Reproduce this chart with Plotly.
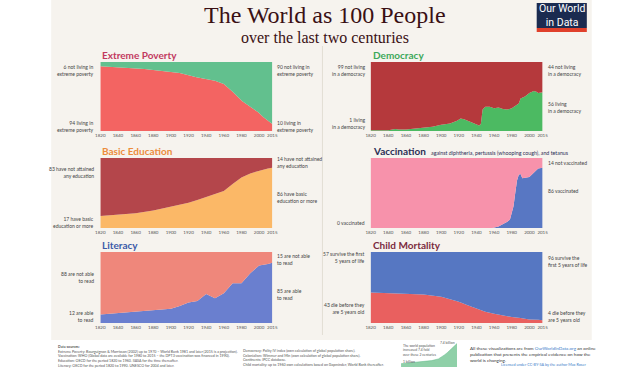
import plotly.graph_objects as go

# ---------------- data ----------------
ticks = [1820, 1840, 1860, 1880, 1900, 1920, 1940, 1960, 1980, 2000, 2015]

pov_years = [1820, 1850, 1870, 1890, 1910, 1929, 1950, 1960, 1970, 1981, 1990, 1999, 2005, 2010, 2015]
pov_living = [94, 92, 90, 87, 84, 78, 73, 68, 57, 43, 35, 27, 20, 15, 10]

dem_years = [1820, 1830, 1840, 1848, 1852, 1860, 1870, 1880, 1890, 1900, 1910, 1918, 1922, 1926, 1930,
             1935, 1940, 1943, 1945, 1947, 1950, 1955, 1960, 1965, 1970, 1975, 1980, 1985, 1988,
             1990, 1995, 2000, 2005, 2008, 2010, 2015]
dem_living = [1, 1, 1, 3, 2, 2, 3, 4, 6, 9, 11, 15, 18, 17, 15,
              13, 10, 8, 10, 31, 35, 35, 33, 34, 32, 31, 33, 38, 40,
              47, 50, 55, 58, 57, 55, 56]

edu_years = [1820, 1840, 1860, 1880, 1900, 1920, 1930, 1940, 1950, 1960, 1970, 1980, 1990, 2000, 2010, 2015]
edu_basic = [17, 19, 21, 25, 30, 36, 40, 44, 48, 53, 63, 72, 78, 82, 85, 86]

vac_years = [1820, 1958, 1965, 1970, 1975, 1978, 1980, 1982, 1984, 1986, 1988, 1990, 1992, 1995, 2000, 2005, 2010, 2015]
vac_done = [0, 0, 2, 5, 9, 12, 20, 31, 50, 68, 76, 77, 71, 72, 73, 79, 85, 86]

lit_years = [1820, 1870, 1900, 1910, 1920, 1930, 1940, 1950, 1960, 1970, 1980, 1990, 2000, 2010, 2015]
lit_able = [12, 17, 20, 24, 29, 31, 41, 35, 42, 56, 56, 70, 81, 83, 85]

cm_years = [1820, 1840, 1860, 1880, 1900, 1910, 1920, 1930, 1940, 1950, 1960, 1970, 1980, 1990, 2000, 2010, 2015]
cm_die = [43, 42, 42, 40, 37, 34, 30, 25, 20, 16, 13, 10.5, 8.5, 7, 5, 4.5, 4]

pop_years = [1820, 1850, 1900, 1927, 1950, 1960, 1970, 1980, 1990, 2000, 2010, 2015]
pop_billion = [1.04, 1.26, 1.65, 2.0, 2.53, 3.0, 3.7, 4.4, 5.3, 6.1, 6.9, 7.35]

# ---------------- layout helpers ----------------
W, H = 640, 368
def px(x): return x / W
def py(y): return 1 - y / H

fig = go.Figure()

panels = [
    dict(years=pov_years, vals=pov_living, bot="#f36462", top="#62c08e", title="Extreme Poverty",
         tcol="#c2395f", xr=(97, 272), yr=(62, 131)),
    dict(years=dem_years, vals=dem_living, bot="#4cba62", top="#b5393c", title="Democracy",
         tcol="#3da85a", xr=(372, 547), yr=(62, 131)),
    dict(years=edu_years, vals=edu_basic, bot="#fbb867", top="#b4464b", title="Basic Education",
         tcol="#ec8c3c", xr=(97, 272), yr=(158, 228)),
    dict(years=vac_years, vals=vac_done, bot="#5877c3", top="#f792ab", title="Vaccination",
         tcol="#2c2f55", xr=(372, 547), yr=(158, 228)),
    dict(years=lit_years, vals=lit_able, bot="#6a7fcf", top="#ef877b", title="Literacy",
         tcol="#3c5aa8", xr=(97, 272), yr=(252, 323)),
    dict(years=cm_years, vals=cm_die, bot="#e9605f", top="#5677c2", title="Child Mortality",
         tcol="#7b2b40", xr=(372, 547), yr=(252, 323)),
]

layout_axes = {}
annotations = []
for i, p in enumerate(panels, start=1):
    xa = "x" if i == 1 else f"x{i}"
    ya = "y" if i == 1 else f"y{i}"
    comp = [100 - v for v in p["vals"]]
    fig.add_trace(go.Scatter(x=p["years"], y=p["vals"], stackgroup=f"s{i}", mode="lines",
                             line=dict(width=0, color=p["bot"]), fillcolor=p["bot"],
                             xaxis=xa, yaxis=ya, hoverinfo="skip", showlegend=False))
    fig.add_trace(go.Scatter(x=p["years"], y=comp, stackgroup=f"s{i}", mode="lines",
                             line=dict(width=0, color=p["top"]), fillcolor=p["top"],
                             xaxis=xa, yaxis=ya, hoverinfo="skip", showlegend=False))
    kx = "xaxis" if i == 1 else f"xaxis{i}"
    ky = "yaxis" if i == 1 else f"yaxis{i}"
    layout_axes[kx] = dict(domain=[px(p["xr"][0]), px(p["xr"][1])], range=[1820, 2015],
                           anchor=ya, tickvals=ticks, ticktext=[str(t) for t in ticks],
                           tickfont=dict(size=4.5, color="#555", family="Lato"),
                           showgrid=False, zeroline=False, ticks="", showline=False, fixedrange=True)
    layout_axes[ky] = dict(domain=[py(p["yr"][1]), py(p["yr"][0])], range=[0, 100],
                           anchor=xa, showticklabels=False, showgrid=False, zeroline=False,
                           ticks="", fixedrange=True)
    annotations.append(dict(text=p["title"], x=px(p["xr"][0]), y=py(p["yr"][0] - 7),
                            xref="paper", yref="paper", xanchor="left", yanchor="middle",
                            showarrow=False, font=dict(family="Lato", size=10, color=p["tcol"],
                                                       weight="bold")))

annotations.append(dict(text="against diphtheria, pertussis (whooping cough), and tetanus",
                        x=px(431), y=py(153), xref="paper", yref="paper", xanchor="left",
                        yanchor="middle", showarrow=False,
                        font=dict(family="Lato", size=5.3, color="#2c2f55")))

side = [
    ("6 not living in<br>extreme poverty", 93, 70, "L"),
    ("94 living in<br>extreme poverty", 93, 126, "L"),
    ("90 not living in<br>extreme poverty", 275, 70, "R"),
    ("10 living in<br>extreme poverty", 275, 126, "R"),
    ("99 not living<br>in a democracy", 368, 70, "L"),
    ("1 living<br>in a democracy", 368, 124, "L"),
    ("44 not living<br>in a democracy", 550, 70, "R"),
    ("56 living<br>in a democracy", 550, 108, "R"),
    ("83 have not attained<br>any education", 93, 172, "L"),
    ("17 have basic<br>education or more", 93, 222, "L"),
    ("14 have not attained<br>any education", 275, 162, "R"),
    ("86 have basic<br>education or more", 275, 198, "R"),
    ("0 vaccinated", 368, 223, "L"),
    ("14 not vaccinated", 550, 163, "R"),
    ("86 vaccinated", 550, 191, "R"),
    ("88 are not able<br>to read", 93, 277, "L"),
    ("12 are able<br>to read", 93, 316, "L"),
    ("15 are not able<br>to read", 275, 259, "R"),
    ("85 are able<br>to read", 275, 294, "R"),
    ("57 survive the first<br>5 years of life", 368, 257, "L"),
    ("43 die before they<br>are 5 years old", 368, 308, "L"),
    ("96 survive the<br>first 5 years of life", 550, 261, "R"),
    ("4 die before they<br>are 5 years old", 550, 316, "R"),
]
for t, x, y, s in side:
    annotations.append(dict(text=t, x=px(x), y=py(y), xref="paper", yref="paper",
                            xanchor="right" if s == "L" else "left", yanchor="middle",
                            align="right" if s == "L" else "left", showarrow=False,
                            font=dict(family="Lato", size=5, color="#444")))

# main titles
annotations.append(dict(text="The World as 100 People", x=px(326), y=py(15), xref="paper", yref="paper",
                        xanchor="center", yanchor="middle", showarrow=False,
                        font=dict(family="Liberation Serif", size=24, color="#3a1014")))
annotations.append(dict(text="over the last two centuries", x=px(326), y=py(37), xref="paper", yref="paper",
                        xanchor="center", yanchor="middle", showarrow=False,
                        font=dict(family="Liberation Serif", size=16, color="#3a1014")))
# logo text
annotations.append(dict(text="Our World<br>in Data", x=px(566.5), y=py(15.5), xref="paper", yref="paper",
                        xanchor="center", yanchor="middle", showarrow=False,
                        font=dict(family="Liberation Sans Narrow, Roboto", size=10.5, color="white")))

# footer
src_left = ("<b>Data sources:</b><br>"
            "Extreme Poverty: Bourguignon & Morrisson (2002) up to 1970 – World Bank 1981 and later (2015 is a projection).<br>"
            "Vaccination: WHO (Global data are available for 1980 to 2015 – the DPT3 vaccination was financed in 1990).<br>"
            "Education: OECD for the period 1820 to 1960. IIASA for the time thereafter.<br>"
            "Literacy: OECD for the period 1820 to 1990. UNESCO for 2004 and later.")
src_right = ("Democracy: Polity IV index (own calculation of global population share).<br>"
             "Colonialism: Wimmer and Min (own calculation of global population share).<br>"
             "Continents: IPCC database.<br>"
             "Child mortality: up to 1960 own calculations based on Gapminder, World Bank thereafter.")
annotations.append(dict(text=src_left, x=px(52), y=py(342), xref="paper", yref="paper",
                        xanchor="left", yanchor="top", align="left", showarrow=False,
                        font=dict(family="Lato", size=3.6, color="#555")))
annotations.append(dict(text=src_right, x=px(240), y=py(346), xref="paper", yref="paper",
                        xanchor="left", yanchor="top", align="left", showarrow=False,
                        font=dict(family="Lato", size=3.6, color="#555")))
annotations.append(dict(text="All these visualizations are from <span style='color:#3d7ec9'>OurWorldInData.org</span> an online<br>"
                             "publication that presents the empirical evidence on how the<br>world is changing.",
                        x=px(471), y=py(342.5), xref="paper", yref="paper", xanchor="left", yanchor="top",
                        align="left", showarrow=False, font=dict(family="Lato", size=4.6, color="#333")))
annotations.append(dict(text="Licensed under CC-BY-SA by the author Max Roser",
                        x=px(593), y=py(364.5), xref="paper", yref="paper", xanchor="right", yanchor="middle",
                        showarrow=False, font=dict(family="Lato", size=3.8, color="#3d7ec9")))
annotations.append(dict(text="The world population<br>increased 7.4 fold<br>over these 2 centuries",
                        x=px(403), y=py(342), xref="paper", yref="paper", xanchor="left", yanchor="top",
                        align="left", showarrow=False, font=dict(family="Lato", size=3.4, color="#555")))
annotations.append(dict(text="7.4 billion", x=px(460), y=py(343), xref="paper", yref="paper",
                        xanchor="right", yanchor="middle", showarrow=False,
                        font=dict(family="Lato", size=3.4, color="#555")))
annotations.append(dict(text="1 billion", x=px(403), y=py(362), xref="paper", yref="paper",
                        xanchor="left", yanchor="middle", showarrow=False,
                        font=dict(family="Lato", size=3.4, color="#555")))

# mini population chart
fig.add_trace(go.Scatter(x=pop_years, y=pop_billion, fill="tozeroy", mode="lines",
                         line=dict(width=0.5, color="#5fb886"), fillcolor="#8fd0a8",
                         xaxis="x7", yaxis="y7", hoverinfo="skip", showlegend=False))
layout_axes["xaxis7"] = dict(domain=[px(403), px(460)], range=[1820, 2015], anchor="y7",
                             visible=False, fixedrange=True)
layout_axes["yaxis7"] = dict(domain=[py(367), py(343)], range=[0, 7.5], anchor="x7",
                             visible=False, fixedrange=True)

shapes = [
    dict(type="rect", xref="paper", yref="paper", x0=px(47), x1=px(597), y0=py(340), y1=py(0),
         fillcolor="#f6f3ee", line=dict(width=0), layer="below"),
    dict(type="line", xref="paper", yref="paper", x0=px(323), x1=px(323), y0=py(335), y1=py(46),
         line=dict(color="#e2ddd4", width=1)),
    dict(type="rect", xref="paper", yref="paper", x0=px(541), x1=px(592), y0=py(28), y1=py(3),
         fillcolor="#1b2b50", line=dict(width=0)),
    dict(type="rect", xref="paper", yref="paper", x0=px(541), x1=px(592), y0=py(32), y1=py(28),
         fillcolor="#e0402b", line=dict(width=0)),
]

fig.update_layout(width=W, height=H, margin=dict(l=0, r=0, t=0, b=0),
                  paper_bgcolor="white", plot_bgcolor="rgba(0,0,0,0)",
                  annotations=annotations, shapes=shapes, showlegend=False, **layout_axes)

fig.write_html("out.html", config={"displayModeBar": False},
               post_script="document.body.style.margin='0';document.body.style.padding='0';"
                           "document.body.style.overflow='hidden';")
